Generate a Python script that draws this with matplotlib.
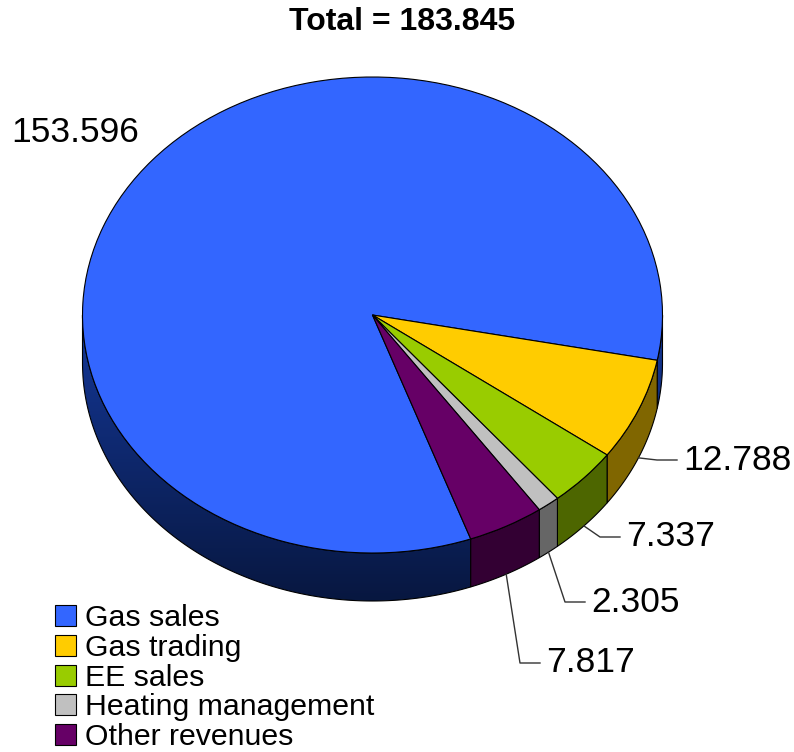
import numpy as np
import matplotlib.pyplot as plt
from matplotlib.patches import Polygon

# Revenue breakdown
categories = ["Gas sales", "Gas trading", "EE sales", "Heating management", "Other revenues"]
values = [153.596, 12.788, 7.337, 2.305, 7.817]
value_labels = ["153.596", "12.788", "7.337", "2.305", "7.817"]
title = "Total = 183.845"

colors = ["#3366FF", "#FFCC00", "#99CC00", "#C0C0C0", "#660066"]
side_colors = ["#1A3380", "#806600", "#4D6600", "#666666", "#330033"]

plt.rcParams['font.family'] = ['Liberation Sans', 'DejaVu Sans']

W, H = 794, 752
fig = plt.figure(figsize=(W / 100, H / 100), dpi=100)
ax = fig.add_axes([0, 0, 1, 1])

# pie centre and radii in pixels; one data unit = one radius
cx, cy = 372.5, 315
rx, ry = 290, 238
depth = 48 / ry


def px(x, y):
    return (x - cx) / rx, (cy - y) / ry


wedges, _ = ax.pie(values, colors=colors, startangle=289.8, counterclock=False,
                   radius=1, wedgeprops=dict(edgecolor='black', linewidth=0.8, zorder=3))

# extruded rim of the pie (only the front half is visible)
for i, w in enumerate(wedges):
    t1, t2 = w.theta1, w.theta2
    for k in range(-2, 3):
        lo = max(t1, 180 + 360 * k)
        hi = min(t2, 360 + 360 * k)
        if hi <= lo:
            continue
        t = np.radians(np.linspace(lo, hi, 200))
        xs, ys = np.cos(t), np.sin(t)
        pts = np.concatenate([np.column_stack([xs, ys]),
                              np.column_stack([xs[::-1], ys[::-1] - depth])])
        if i == 0:
            outline = Polygon(pts, closed=True, facecolor='none', edgecolor='black',
                              linewidth=0.8, zorder=2)
            ax.add_patch(outline)
            # darker towards the bottom
            g = np.linspace(0, 1, 256)[:, None]
            top = np.array([0.08, 0.22, 0.60])
            bot = np.array([0.03, 0.09, 0.25])
            grad = (top + (bot - top) * g)[:, None, :].repeat(2, axis=1)
            im = ax.imshow(grad, extent=(-1, 1, -1 - depth, 0), aspect='auto',
                           origin='upper', zorder=1)
            im.set_clip_path(outline)
        else:
            ax.add_patch(Polygon(pts, closed=True, facecolor=side_colors[i],
                                 edgecolor='black', linewidth=0.8, zorder=2))

# value labels with leader lines
elbows = [None, (657, 460), (600, 537), (565, 602), (520, 663)]
for i, w in enumerate(wedges):
    if elbows[i] is None:
        continue
    m = np.radians((w.theta1 + w.theta2) / 2)
    sx, sy = np.cos(m), np.sin(m) - depth
    ex, ey = px(*elbows[i])
    ax.plot([sx, ex, ex + 20 / rx], [sy, ey, ey], color='#333333', lw=1, zorder=4)
    ax.text(ex + 26 / rx, ey, value_labels[i], fontsize=25.5, ha='left', va='center',
            zorder=5)

ax.text(*px(75, 133), value_labels[0], fontsize=25.5, ha='center', va='center')
ax.text(*px(402, 22), title, fontsize=23, fontweight='bold', ha='center', va='center')

ax.set_aspect('auto')
ax.set_xlim(-cx / rx, (W - cx) / rx)
ax.set_ylim((cy - H) / ry, cy / ry)
ax.axis('off')

fig.legend(wedges, categories, loc='upper left', bbox_to_anchor=(55 / W, 1 - 604 / H),
           frameon=False, fontsize=21.8, labelspacing=0.06, handlelength=0.69,
           handleheight=0.69, handletextpad=0.3, borderpad=0, borderaxespad=0)

fig.savefig('out.png', dpi=100)
